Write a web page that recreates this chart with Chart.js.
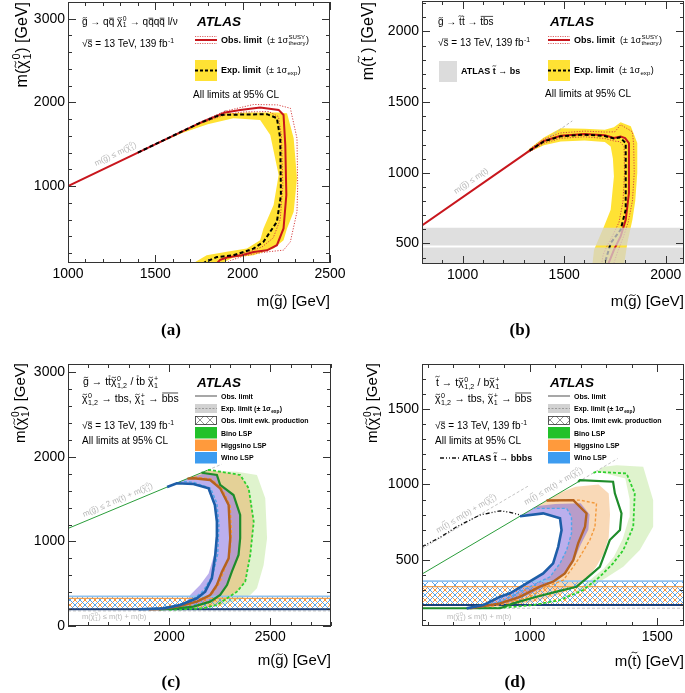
<!DOCTYPE html>
<html>
<head>
<meta charset="utf-8">
<script src="https://cdn.jsdelivr.net/npm/chart.js@4/dist/chart.umd.min.js"></script>
<style>
  body { margin: 0; background: #fff; }
  canvas { position: absolute; left: 0; top: 0; }
</style>
</head>
<body>
<canvas id="pa" width="685" height="693"></canvas>
<canvas id="pb" width="685" height="693"></canvas>
<canvas id="pc" width="685" height="693"></canvas>
<canvas id="pd" width="685" height="693"></canvas>
<script>
const FONT = 'Liberation Sans';

// ---------- (a) gluino -> qq chi, chi -> qqq l/v ----------
const aX = [1000, 2500], aY = [80, 3200];
const aXTicks = [1000, 1500, 2000, 2500];
const aYTicks = [1000, 2000, 3000];
const aDiag = [[1400, 1400], [1905, 1905]];
const aObs = [[1000, 1000], [1750, 1750], [1900, 1880], [1986, 1910], [2100, 1938], [2206, 1910], [2234, 1850], [2244, 1491], [2250, 892], [2234, 493], [2196, 293], [2139, 232], [2062, 212], [1995, 172], [1909, 145], [1871, 118], [1845, 60]];
const aObsUp = [[1750, 1760], [1900, 1895], [2062, 1975], [2200, 1970], [2273, 1930], [2311, 1571], [2315, 1000], [2311, 692], [2273, 333], [2234, 234], [2150, 215], [2080, 195], [2000, 160], [1930, 110], [1895, 60]];
const aObsDn = [[1750, 1742], [1900, 1850], [2000, 1885], [2150, 1890], [2205, 1830], [2222, 1600], [2230, 1000], [2215, 600], [2175, 380], [2110, 270], [2040, 220], [1960, 170], [1880, 120], [1830, 60]];
const aExp = [[1400, 1400], [1750, 1750], [1871, 1850], [2139, 1859], [2196, 1811], [2215, 1571], [2219, 892], [2196, 573], [2119, 333], [2062, 252], [2005, 211], [1947, 172], [1852, 151], [1785, 90], [1766, 60]];
const aBandOut = [[1500, 1500], [1750, 1750], [1900, 1870], [2050, 1880], [2200, 1880], [2254, 1870], [2292, 1571], [2311, 1092], [2292, 692], [2254, 493], [2234, 353], [2177, 254], [2062, 174], [1947, 146], [1871, 68], [1865, 50]];
const aBandIn = [[1695, 50], [1794, 174], [1909, 213], [2024, 254], [2100, 353], [2119, 493], [2177, 773], [2206, 1132], [2158, 1611], [2100, 1790], [1947, 1811], [1800, 1740], [1650, 1630], [1500, 1495]];

// ---------- (b) gluino -> stop top, stop -> bs ----------
const bX = [800, 2090], bY = [355, 2215];
const bXTicks = [1000, 1500, 2000];
const bYTicks = [500, 1000, 1500, 2000];
const bDiag = [[1330, 1157], [1540, 1367]];
const bObs = [[800, 627], [1330, 1157], [1400, 1225], [1483, 1262], [1600, 1275], [1700, 1265], [1745, 1246], [1778, 1257], [1800, 1245], [1819, 1210], [1819, 857], [1803, 668], [1778, 550], [1745, 455], [1713, 340]];
const bObsUp = [[1330, 1168], [1400, 1240], [1483, 1282], [1600, 1295], [1700, 1288], [1750, 1290], [1778, 1340], [1836, 1290], [1842, 1200], [1845, 1000], [1836, 800], [1815, 650], [1790, 540], [1765, 450], [1740, 340]];
const bObsDn = [[1330, 1148], [1400, 1208], [1483, 1244], [1600, 1255], [1700, 1243], [1745, 1225], [1775, 1220], [1795, 1185], [1797, 1000], [1790, 800], [1770, 650], [1740, 560], [1710, 480], [1692, 420], [1683, 340]];
const bExp = [[1330, 1157], [1400, 1222], [1483, 1258], [1600, 1270], [1700, 1260], [1745, 1242], [1775, 1250], [1803, 1210], [1803, 738], [1778, 597], [1729, 503], [1696, 340]];
const bBandOut = [[1300, 1127], [1330, 1172], [1400, 1250], [1483, 1315], [1600, 1312], [1700, 1305], [1745, 1322], [1778, 1357], [1828, 1330], [1860, 1210], [1860, 1000], [1850, 800], [1836, 668], [1811, 503], [1795, 350], [1792, 340]];
const bBandIn = [[1636, 340], [1639, 350], [1647, 455], [1696, 620], [1729, 738], [1745, 974], [1740, 1100], [1729, 1186], [1700, 1218], [1600, 1228], [1483, 1222], [1400, 1195], [1330, 1148], [1300, 1125]];
const bStopBs = [[340, 472], [486, 612]];

// ---------- (c) gluino -> tt chi / tb chi+ ----------
const cX = [1500, 2800], cY = [0, 3100];
const cXTicks = [2000, 2500];
const cYTicks = [0, 1000, 2000, 3000];
const cDiag = [[1500, 1154], [2190, 1844]];
const cDiagExt = [[2190, 1844], [2260, 1914]];
const cKin = 178;
const cEwkWino = [199, 352];
const cEwkHig = [199, 326];
const cWinoObs = [[1850, 198], [1972, 209], [2054, 249], [2137, 328], [2178, 406], [2211, 564], [2228, 840], [2235, 1040], [2236, 1234], [2226, 1432], [2195, 1630], [2120, 1680], [2038, 1689], [1990, 1644]];
const cHigObs = [[1900, 198], [1955, 201], [2038, 229], [2137, 288], [2203, 367], [2236, 485], [2261, 643], [2294, 801], [2302, 1038], [2294, 1432], [2252, 1630], [2203, 1728], [2120, 1748], [2090, 1744]];
const cBinoObs = [[1950, 197], [2005, 201], [2120, 229], [2203, 288], [2252, 367], [2286, 485], [2310, 643], [2343, 840], [2351, 1038], [2351, 1314], [2318, 1550], [2252, 1669], [2236, 1787], [2178, 1807], [2160, 1814]];
const cWinoExp = [[1880, 198], [2020, 228], [2110, 300], [2170, 420], [2215, 600], [2240, 850], [2246, 1200], [2236, 1450], [2205, 1630], [2120, 1700], [2060, 1714]];
const cHigExp = [[1930, 198], [2060, 232], [2150, 295], [2212, 380], [2248, 500], [2275, 680], [2300, 860], [2308, 1100], [2302, 1420], [2262, 1625], [2210, 1738], [2130, 1762], [2108, 1762]];
const cBinoExp = [[2000, 192], [2170, 209], [2236, 249], [2286, 328], [2335, 406], [2376, 524], [2401, 840], [2418, 1234], [2393, 1630], [2351, 1787], [2203, 1846], [2192, 1846]];
const cWinoBandOut = [[2090, 1744], [2178, 1807], [2236, 1787], [2252, 1669], [2318, 1550], [2351, 1314], [2351, 1038], [2343, 840], [2310, 643], [2286, 485], [2252, 367], [2203, 288], [2120, 229], [2005, 201], [1900, 196]];
const cWinoBandIn = [[1850, 196], [1990, 215], [2087, 288], [2104, 367], [2153, 485], [2195, 620], [2222, 840], [2232, 1040], [2233, 1234], [2222, 1432], [2190, 1625], [2120, 1680], [2040, 1694]];
const cHigBandOut = [[2192, 1846], [2351, 1787], [2393, 1630], [2418, 1234], [2401, 840], [2376, 524], [2335, 406], [2286, 328], [2236, 249], [2170, 209], [2000, 196]];
const cHigBandIn = [[1955, 198], [2038, 229], [2137, 288], [2203, 367], [2236, 485], [2261, 643], [2294, 801], [2302, 1038], [2294, 1432], [2252, 1630], [2203, 1728], [2120, 1748], [2090, 1744]];
const cBinoBandOut = [[2187, 1841], [2335, 1826], [2434, 1787], [2475, 1511], [2484, 1038], [2467, 722], [2434, 446], [2401, 367], [2330, 300], [2250, 240], [2150, 205], [2050, 196]];
const cBinoBandIn = [[2005, 201], [2120, 229], [2203, 288], [2252, 367], [2286, 485], [2310, 643], [2343, 840], [2351, 1038], [2351, 1314], [2318, 1550], [2252, 1669], [2236, 1787], [2170, 1825]];

// ---------- (d) stop -> t chi / b chi+ ----------
const dX = [578, 1605], dY = [60, 1800];
const dXTicks = [1000, 1500];
const dYTicks = [500, 1000, 1500];
const dDiag = [[578, 405], [1190, 1017]];
const dDiagExt = [[1190, 1017], [1345, 1172]];
const dDiagB = [[578, 573], [1000, 995]];
const dBbbs = [[578, 586], [650, 650], [714, 719], [805, 797], [884, 825], [923, 815], [962, 797]];
const dKin = 178;
const dEwkWino = [199, 358];
const dEwkHig = [199, 321];
const dWinoObs = [[753, 177], [818, 199], [884, 254], [923, 277], [988, 343], [1053, 409], [1092, 476], [1112, 586], [1125, 697], [1119, 775], [1053, 808], [962, 789]];
const dHigObs = [[766, 177], [884, 210], [962, 254], [1040, 321], [1092, 354], [1138, 409], [1171, 498], [1190, 609], [1217, 719], [1223, 808], [1171, 896], [1066, 893]];
const dBinoObs = [[578, 178], [884, 178], [936, 210], [1027, 254], [1106, 288], [1184, 321], [1223, 376], [1275, 453], [1295, 542], [1314, 631], [1354, 697], [1360, 808], [1334, 941], [1327, 1018], [1197, 1029], [1190, 1017]];
const dWinoExp = [[800, 190], [884, 220], [962, 288], [1027, 343], [1080, 387], [1119, 476], [1145, 564], [1164, 675], [1164, 786], [1145, 841], [1014, 841]];
const dHigExp = [[830, 185], [910, 210], [1001, 254], [1066, 321], [1132, 365], [1171, 453], [1197, 520], [1236, 631], [1256, 719], [1262, 874], [1197, 896], [1066, 893]];
const dBinoExp = [[800, 178], [900, 182], [1014, 199], [1119, 232], [1210, 299], [1275, 387], [1327, 476], [1367, 564], [1406, 719], [1412, 941], [1380, 1073], [1262, 1084], [1250, 1077]];
const dWinoBandOut = [[1030, 857], [1100, 870], [1200, 875], [1235, 800], [1230, 700], [1200, 600], [1170, 480], [1130, 400], [1080, 340], [1000, 270], [920, 215], [850, 190], [780, 180]];
const dWinoBandIn = [[753, 178], [818, 199], [884, 254], [923, 277], [988, 343], [1053, 409], [1092, 476], [1112, 586], [1125, 697], [1119, 775], [1053, 808], [962, 789]];
const dHigBandOut = [[1120, 947], [1180, 985], [1270, 1000], [1310, 940], [1315, 800], [1310, 650], [1290, 540], [1260, 450], [1220, 370], [1170, 310], [1100, 260], [1000, 215], [900, 190]];
const dHigBandIn = [[830, 185], [962, 288], [1027, 343], [1080, 387], [1119, 476], [1145, 564], [1164, 675], [1164, 786], [1145, 841], [1014, 841]];
const dBinoBandOut = [[1290, 1117], [1341, 1128], [1445, 1117], [1484, 896], [1484, 719], [1432, 564], [1367, 453], [1300, 380], [1240, 320], [1150, 260], [1050, 215], [950, 190]];
const dBinoBandIn = [[880, 180], [1000, 200], [1100, 232], [1180, 292], [1240, 370], [1290, 440], [1330, 520], [1365, 640], [1390, 780], [1392, 900], [1375, 1040], [1290, 1076], [1260, 1084]];

// ---------- colours ----------
const YELLOW = '#ffe234';
const RED = '#c8161d';
const RED_DOT = '#d64040';
const WINO_BAND = 'rgba(120,95,220,0.5)';
const HIG_BAND = 'rgba(238,150,55,0.36)';
const BINO_BAND = 'rgba(150,215,90,0.3)';

// ---------- helpers ----------
const P = a => a.map(([x, y]) => ({x, y}));
const ln = (d, c, w, dash) => ({data: P(d), borderColor: c, borderWidth: w, borderDash: dash || [], fill: false, pointRadius: 0});
const sh = (d, c) => ({data: P(d), backgroundColor: c, borderColor: 'rgba(0,0,0,0)', borderWidth: 0, fill: 'shape', pointRadius: 0});
const ring = (out, inn) => out.concat(inn);
const box = (xr, y0, y1) => [[xr[0], y0], [xr[1], y0], [xr[1], y1], [xr[0], y1]];
const hline = (xr, y) => [[xr[0], y], [xr[1], y]];

function hatch(color, shift) {
  const c = document.createElement('canvas');
  c.width = c.height = 10;
  const g = c.getContext('2d');
  g.strokeStyle = color; g.lineWidth = 0.9;
  g.beginPath();
  g.moveTo(-1, -1); g.lineTo(11, 11);
  g.moveTo(11, -1); g.lineTo(-1, 11);
  g.stroke();
  const p = g.createPattern(c, 'repeat');
  if (shift) p.setTransform(new DOMMatrix().translate(shift, 0));
  return p;
}
const HATCH_BLUE = hatch('#4a9be6', 0);
const HATCH_ORANGE = hatch('#f08a2c', 5);
const HATCH_GRAY = hatch('#888', 0);

function tilde(ctx, cx, cy, w) {
  const h = w * 0.22;
  ctx.beginPath();
  ctx.moveTo(cx - w / 2, cy + h * 0.5);
  ctx.bezierCurveTo(cx - w / 6, cy - h * 1.6, cx + w / 6, cy + h * 1.6, cx + w / 2, cy - h * 0.5);
  ctx.stroke();
}

// rich text: strings, {t, tl, bar, b}, {sub, sup}
function rt(ctx, x, y, segs, o) {
  o = o || {};
  const size = o.size || 10, fam = o.serif ? 'Liberation Serif' : FONT;
  const f = (s, b, i) => (i ? 'italic ' : '') + (b ? 'bold ' : '') + s + 'px "' + fam + '"';
  const items = segs.map(s => typeof s === 'string' ? {t: s} : Object.assign({}, s));
  ctx.save();
  for (const it of items) {
    it.bb = it.b !== undefined ? it.b : o.bold;
    if (it.t !== undefined) {
      ctx.font = f(size, it.bb, o.italic);
      it.w = ctx.measureText(it.t).width;
    } else {
      ctx.font = f(size * 0.68, it.bb);
      it.w = Math.max(ctx.measureText(it.sub || '').width, ctx.measureText(it.sup || '').width) + size * 0.1;
    }
  }
  const w = items.reduce((s, it) => s + it.w, 0);
  let cx = o.align === 'right' ? x - w : o.align === 'center' ? x - w / 2 : x;
  ctx.fillStyle = ctx.strokeStyle = o.color || '#000';
  ctx.textAlign = 'left';
  ctx.textBaseline = 'alphabetic';
  ctx.lineWidth = Math.max(0.7, size * 0.06);
  for (const it of items) {
    if (it.t !== undefined) {
      ctx.font = f(size, it.bb, o.italic);
      ctx.fillText(it.t, cx, y);
      if (it.tl) tilde(ctx, cx + it.w / 2, y - size * it.tl, size * 0.42);
      if (it.bar) {
        ctx.beginPath();
        ctx.moveTo(cx + size * 0.05, y - size * it.bar);
        ctx.lineTo(cx + it.w - size * 0.05, y - size * it.bar);
        ctx.stroke();
      }
    } else {
      ctx.font = f(size * 0.68, it.bb);
      if (it.sup) ctx.fillText(it.sup, cx + size * 0.05, y - size * 0.42);
      if (it.sub) ctx.fillText(it.sub, cx + size * 0.05, y + size * 0.24);
    }
    cx += it.w;
  }
  ctx.restore();
  return w;
}
function at(ctx, x, y, deg, segs, o) {
  ctx.save();
  ctx.translate(x, y);
  ctx.rotate(deg * Math.PI / 180);
  rt(ctx, 0, 0, segs, o);
  ctx.restore();
}
function vt(ctx, x, y, segs, o) {
  at(ctx, x, y, -90, segs, Object.assign({align: 'right'}, o));
}

const G = {t: 'g', tl: 0.72};
const T = {t: 't', tl: 0.9};
const CHI = {t: 'χ', tl: 0.72};
const QB = {t: 'q', bar: 0.68};
const N10 = {sub: '1', sup: '0'};
const N120 = {sub: '1,2', sup: '0'};
const C1P = {sub: '1', sup: '+'};
const SQRTS = ['√', {t: 's', bar: 0.7}, ' = 13 TeV, 139 fb', {sup: '-1'}];
const GRAY_TXT = '#b8b8b8';

function obsKey(ctx, x, y) {
  ctx.save();
  ctx.strokeStyle = RED; ctx.lineWidth = 2;
  ctx.beginPath(); ctx.moveTo(x, y); ctx.lineTo(x + 22, y); ctx.stroke();
  ctx.strokeStyle = RED_DOT; ctx.lineWidth = 0.8; ctx.setLineDash([1.2, 1.2]);
  ctx.beginPath();
  ctx.moveTo(x, y - 3.5); ctx.lineTo(x + 22, y - 3.5);
  ctx.moveTo(x, y + 3.5); ctx.lineTo(x + 22, y + 3.5);
  ctx.stroke();
  ctx.restore();
}
function expKey(ctx, x, y) {
  ctx.save();
  ctx.fillStyle = YELLOW; ctx.fillRect(x, y, 22, 21);
  ctx.strokeStyle = '#000'; ctx.lineWidth = 2; ctx.setLineDash([3, 2]);
  ctx.beginPath(); ctx.moveTo(x, y + 10.5); ctx.lineTo(x + 22, y + 10.5); ctx.stroke();
  ctx.restore();
}
function lspKeys(ctx, x, tx) {
  ctx.save();
  ctx.strokeStyle = '#8a8a8a'; ctx.lineWidth = 1.5;
  ctx.beginPath(); ctx.moveTo(x, 396); ctx.lineTo(x + 22, 396); ctx.stroke();
  ctx.fillStyle = '#d2d2d2'; ctx.fillRect(x, 404, 22, 9);
  ctx.strokeStyle = '#9a9a9a'; ctx.lineWidth = 1.2; ctx.setLineDash([2, 1.5]);
  ctx.beginPath(); ctx.moveTo(x, 408.5); ctx.lineTo(x + 22, 408.5); ctx.stroke();
  ctx.setLineDash([]);
  ctx.fillStyle = HATCH_GRAY; ctx.fillRect(x, 416, 22, 9);
  ctx.strokeStyle = '#333'; ctx.lineWidth = 0.8; ctx.strokeRect(x + 0.5, 416.5, 21, 8);
  ctx.fillStyle = '#22c12a'; ctx.fillRect(x, 427, 22, 11.5);
  ctx.fillStyle = '#ff9a3c'; ctx.fillRect(x, 439.5, 22, 11.5);
  ctx.fillStyle = '#3d9cf0'; ctx.fillRect(x, 452, 22, 11.5);
  ctx.restore();
  const o = {size: 7, bold: true};
  rt(ctx, tx, 398.5, ['Obs. limit'], o);
  rt(ctx, tx, 411, ['Exp. limit (± 1σ', {sub: 'exp'}, ')'], o);
  rt(ctx, tx, 423, ['Obs. limit ewk. production'], o);
  rt(ctx, tx, 435.5, ['Bino LSP'], o);
  rt(ctx, tx, 447.5, ['Higgsino LSP'], o);
  rt(ctx, tx, 459.5, ['Wino LSP'], o);
}

function frame(c, p) {
  const {ctx, chartArea: a, scales: {x, y}} = c;
  ctx.save();
  ctx.strokeStyle = '#333';
  ctx.lineWidth = 1;
  ctx.strokeRect(a.left + 0.5, a.top + 0.5, a.right - a.left - 1, a.bottom - a.top - 1);
  ctx.beginPath();
  for (let v = Math.ceil(p.x[0] / p.xm) * p.xm; v <= p.x[1]; v += p.xm) {
    const px = Math.round(x.getPixelForValue(v)) + 0.5, L = v % p.xM === 0 ? 8 : 4;
    ctx.moveTo(px, a.bottom); ctx.lineTo(px, a.bottom - L);
    ctx.moveTo(px, a.top); ctx.lineTo(px, a.top + L);
  }
  for (let v = Math.ceil(p.y[0] / p.ym) * p.ym; v <= p.y[1]; v += p.ym) {
    const py = Math.round(y.getPixelForValue(v)) + 0.5, L = v % p.yM === 0 ? 8 : 4;
    ctx.moveTo(a.left, py); ctx.lineTo(a.left + L, py);
    ctx.moveTo(a.right, py); ctx.lineTo(a.right - L, py);
  }
  ctx.stroke();
  ctx.restore();
}

function build(id, p) {
  const nopad = s => { s.paddingLeft = s.paddingRight = s.paddingTop = s.paddingBottom = 0; };
  const tk = {color: '#000', font: {family: FONT, size: 14}, padding: 3, maxRotation: 0, autoSkip: false, callback: v => String(v)};
  return new Chart(document.getElementById(id), {
    type: 'line',
    data: {datasets: p.datasets},
    options: {
      responsive: false,
      animation: false,
      events: [],
      devicePixelRatio: 1,
      layout: {padding: {left: p.area.l - 40, right: 685 - p.area.r, top: p.area.t, bottom: 693 - p.area.b - 30}},
      elements: {point: {radius: 0}, line: {tension: 0}},
      plugins: {legend: {display: false}, tooltip: {enabled: false}},
      scales: {
        x: {
          type: 'linear', min: p.x[0], max: p.x[1],
          grid: {display: false, drawTicks: false}, border: {display: false},
          ticks: tk,
          afterBuildTicks: s => { s.ticks = p.xt.map(v => ({value: v})); },
          afterFit: s => { s.height = 30; nopad(s); }
        },
        y: {
          type: 'linear', min: p.y[0], max: p.y[1],
          grid: {display: false, drawTicks: false}, border: {display: false},
          ticks: tk,
          afterBuildTicks: s => { s.ticks = p.yt.map(v => ({value: v})); },
          afterFit: s => { s.width = 40; nopad(s); }
        }
      }
    },
    plugins: [{id: 'deco', afterDraw: c => { frame(c, p); p.draw(c.ctx); }}]
  });
}

// ---------- panel (a) ----------
build('pa', {
  area: {l: 68, r: 330, t: 2, b: 263},
  x: aX, y: aY, xt: aXTicks, yt: aYTicks, xm: 100, xM: 500, ym: 200, yM: 1000,
  datasets: [
    ln(aExp, '#000', 2, [4, 2.5]),
    ln(aObs, RED, 2),
    ln(aObsUp, RED_DOT, 1, [1.2, 1.5]),
    ln(aObsDn, RED_DOT, 1, [1.2, 1.5]),
    ln(aDiag, '#b8b8b8', 1, [3, 2]),
    sh(ring(aBandOut, aBandIn), YELLOW)
  ],
  draw: ctx => {
    rt(ctx, 330, 306, ['m(', G, ') [GeV]'], {size: 15, align: 'right'});
    vt(ctx, 27, 2, ['m(', CHI, N10, ') [GeV]'], {size: 16});
    rt(ctx, 171, 335, ['(a)'], {size: 17, bold: true, serif: true, align: 'center'});
    rt(ctx, 82, 25, [G, ' → q', QB, ' ', CHI, N10, ' → q', QB, 'q', QB, ' l/ν'], {size: 10});
    rt(ctx, 82, 47, SQRTS, {size: 10});
    rt(ctx, 197, 26, ['ATLAS'], {size: 13.5, bold: true, italic: true});
    obsKey(ctx, 195, 40);
    rt(ctx, 221, 43, [{t: 'Obs. limit', b: true}, '  (± 1σ', {sup: 'SUSY', sub: 'theory'}, ')'], {size: 9});
    expKey(ctx, 195, 60);
    rt(ctx, 221, 73, [{t: 'Exp. limit', b: true}, '  (± 1σ', {sub: 'exp'}, ')'], {size: 9});
    rt(ctx, 193, 98, ['All limits at 95% CL'], {size: 10});
    at(ctx, 96, 166, -25.6, ['m(', G, ') ≤ m(', CHI, N10, ')'], {size: 8, color: GRAY_TXT});
  }
});

// ---------- panel (b) ----------
build('pb', {
  area: {l: 422, r: 684, t: 1, b: 264},
  x: bX, y: bY, xt: bXTicks, yt: bYTicks, xm: 100, xM: 500, ym: 100, yM: 500,
  datasets: [
    sh(box(bX, bStopBs[0][0], bStopBs[0][1]), 'rgba(212,212,212,0.75)'),
    sh(box(bX, bStopBs[1][0], bStopBs[1][1]), 'rgba(212,212,212,0.75)'),
    ln(bExp, '#000', 2, [4, 2.5]),
    ln(bObs, RED, 2),
    ln(bObsUp, RED_DOT, 1, [1.2, 1.5]),
    ln(bObsDn, RED_DOT, 1, [1.2, 1.5]),
    ln(bDiag, '#b8b8b8', 1, [3, 2]),
    sh(ring(bBandOut, bBandIn), YELLOW)
  ],
  draw: ctx => {
    rt(ctx, 684, 306, ['m(', G, ') [GeV]'], {size: 15, align: 'right'});
    vt(ctx, 373, 2, ['m(', T, ' ) [GeV]'], {size: 16});
    rt(ctx, 520, 335, ['(b)'], {size: 17, bold: true, serif: true, align: 'center'});
    rt(ctx, 438, 25, [G, ' → ', T, {t: 't', bar: 0.86}, ' → ', {t: 'tbs', bar: 0.86}], {size: 10});
    rt(ctx, 438, 46, SQRTS, {size: 10});
    ctx.fillStyle = '#dcdcdc'; ctx.fillRect(439, 61, 18, 21);
    rt(ctx, 461, 74, ['ATLAS ', T, ' → bs'], {size: 9, bold: true});
    rt(ctx, 550, 26, ['ATLAS'], {size: 13.5, bold: true, italic: true});
    obsKey(ctx, 548, 40);
    rt(ctx, 574, 43, [{t: 'Obs. limit', b: true}, '  (± 1σ', {sup: 'SUSY', sub: 'theory'}, ')'], {size: 9});
    expKey(ctx, 548, 60);
    rt(ctx, 574, 73, [{t: 'Exp. limit', b: true}, '  (± 1σ', {sub: 'exp'}, ')'], {size: 9});
    rt(ctx, 545, 97, ['All limits at 95% CL'], {size: 10});
    at(ctx, 456, 194, -34, ['m(', G, ') ≤ m(t)'], {size: 8, color: GRAY_TXT});
  }
});

// ---------- panel (c) ----------
build('pc', {
  area: {l: 68, r: 331, t: 364, b: 626},
  x: cX, y: cY, xt: cXTicks, yt: cYTicks, xm: 100, xM: 500, ym: 200, yM: 1000,
  datasets: [
    ln(cWinoObs, '#1d5ea8', 2.6),
    ln(cHigObs, '#b5621f', 2.4),
    ln(cBinoObs, '#1e8c2a', 2.2),
    ln(cWinoExp, '#4fa6ea', 1.4, [3, 2]),
    ln(cHigExp, '#f39a3c', 1.4, [3, 2]),
    ln(cBinoExp, '#2fd02f', 1.8, [3, 2]),
    ln(cDiag, '#2a9d3a', 1),
    ln(cDiagExt, '#c4c4c4', 1, [3, 2]),
    ln(hline(cX, cEwkWino[0]), '#1b3f7a', 2),
    ln(hline(cX, cEwkWino[1]), '#8fc1ee', 1.6),
    ln(hline(cX, cEwkHig[1]), '#f0a050', 1.2),
    ln(hline(cX, cKin), '#c4c4c4', 1, [3, 2]),
    sh(box(cX, cEwkWino[0], cEwkWino[1]), HATCH_BLUE),
    sh(box(cX, cEwkHig[0], cEwkHig[1]), HATCH_ORANGE),
    sh(ring(cWinoBandOut, cWinoBandIn), WINO_BAND),
    sh(ring(cHigBandOut, cHigBandIn), HIG_BAND),
    sh(ring(cBinoBandOut, cBinoBandIn), BINO_BAND)
  ],
  draw: ctx => {
    rt(ctx, 331, 665, ['m(', G, ') [GeV]'], {size: 15, align: 'right'});
    vt(ctx, 25, 363, ['m(', CHI, N10, ') [GeV]'], {size: 15});
    rt(ctx, 171, 687, ['(c)'], {size: 17, bold: true, serif: true, align: 'center'});
    rt(ctx, 83, 385, [G, ' → t', {t: 't', bar: 0.86}, CHI, N120, ' / ', {t: 't', bar: 0.86}, 'b ', CHI, C1P], {size: 10.5});
    rt(ctx, 82, 402, [CHI, N120, ' → tbs, ', CHI, C1P, ' → ', {t: 'bbs', bar: 0.86}], {size: 10.5});
    rt(ctx, 82, 429, SQRTS, {size: 10});
    rt(ctx, 82, 444, ['All limits at 95% CL'], {size: 10});
    rt(ctx, 197, 387, ['ATLAS'], {size: 13.5, bold: true, italic: true});
    lspKeys(ctx, 195, 221);
    at(ctx, 84, 517, -23, ['m(', G, ') ≤ 2 m(t) + m(', CHI, N10, ')'], {size: 8, color: GRAY_TXT});
    rt(ctx, 82, 619, ['m(', CHI, N10, ') ≤ m(t) + m(b)'], {size: 7.5, color: GRAY_TXT});
  }
});

// ---------- panel (d) ----------
build('pd', {
  area: {l: 422, r: 684, t: 364, b: 626},
  x: dX, y: dY, xt: dXTicks, yt: dYTicks, xm: 100, xM: 500, ym: 100, yM: 500,
  datasets: [
    ln(dWinoObs, '#1d5ea8', 2.6),
    ln(dHigObs, '#b5621f', 2.4),
    ln(dBinoObs, '#1e8c2a', 2.2),
    ln(dWinoExp, '#4fa6ea', 1.4, [3, 2]),
    ln(dHigExp, '#f39a3c', 1.4, [3, 2]),
    ln(dBinoExp, '#2fd02f', 1.8, [3, 2]),
    ln(dBbbs, '#111', 1.3, [4, 2, 1, 2, 1, 2]),
    ln(dDiag, '#2a9d3a', 1),
    ln(dDiagExt, '#c4c4c4', 1, [3, 2]),
    ln(dDiagB, '#c4c4c4', 1, [3, 2]),
    ln(hline(dX, dEwkWino[0]), '#1b3f7a', 2),
    ln(hline(dX, dEwkWino[1]), '#8fc1ee', 1.6),
    ln(hline(dX, dEwkHig[1]), '#f0a050', 1.2),
    ln(hline(dX, dKin), '#c4c4c4', 1, [3, 2]),
    sh(box(dX, dEwkWino[0], dEwkWino[1]), HATCH_BLUE),
    sh(box(dX, dEwkHig[0], dEwkHig[1]), HATCH_ORANGE),
    sh(ring(dWinoBandOut, dWinoBandIn), WINO_BAND),
    sh(ring(dHigBandOut, dHigBandIn), HIG_BAND),
    sh(ring(dBinoBandOut, dBinoBandIn), BINO_BAND)
  ],
  draw: ctx => {
    rt(ctx, 684, 666, ['m(', T, ') [GeV]'], {size: 15, align: 'right'});
    vt(ctx, 377, 363, ['m(', CHI, N10, ') [GeV]'], {size: 15});
    rt(ctx, 515, 687, ['(d)'], {size: 17, bold: true, serif: true, align: 'center'});
    rt(ctx, 436, 386, [T, ' → t', CHI, N120, ' / b', CHI, C1P], {size: 10.5});
    rt(ctx, 435, 402, [CHI, N120, ' → tbs, ', CHI, C1P, ' → ', {t: 'bbs', bar: 0.86}], {size: 10.5});
    rt(ctx, 435, 429, SQRTS, {size: 10});
    rt(ctx, 435, 444, ['All limits at 95% CL'], {size: 10});
    ctx.save();
    ctx.strokeStyle = '#111'; ctx.lineWidth = 1.3; ctx.setLineDash([4, 2, 1, 2, 1, 2]);
    ctx.beginPath(); ctx.moveTo(440, 458); ctx.lineTo(459, 458); ctx.stroke();
    ctx.restore();
    rt(ctx, 462, 461, ['ATLAS ', T, ' → bbbs'], {size: 9, bold: true});
    rt(ctx, 550, 387, ['ATLAS'], {size: 13.5, bold: true, italic: true});
    lspKeys(ctx, 548, 574);
    at(ctx, 526, 505, -30.5, ['m(', T, ') ≤ m(t) + m(', CHI, N10, ')'], {size: 8, color: GRAY_TXT});
    at(ctx, 438, 533, -30.5, ['m(', T, ') ≤ m(b) + m(', CHI, N10, ')'], {size: 8, color: GRAY_TXT});
    rt(ctx, 447, 619, ['m(', CHI, N10, ') ≤ m(t) + m(b)'], {size: 7.5, color: GRAY_TXT});
  }
});
</script>
</body>
</html>
